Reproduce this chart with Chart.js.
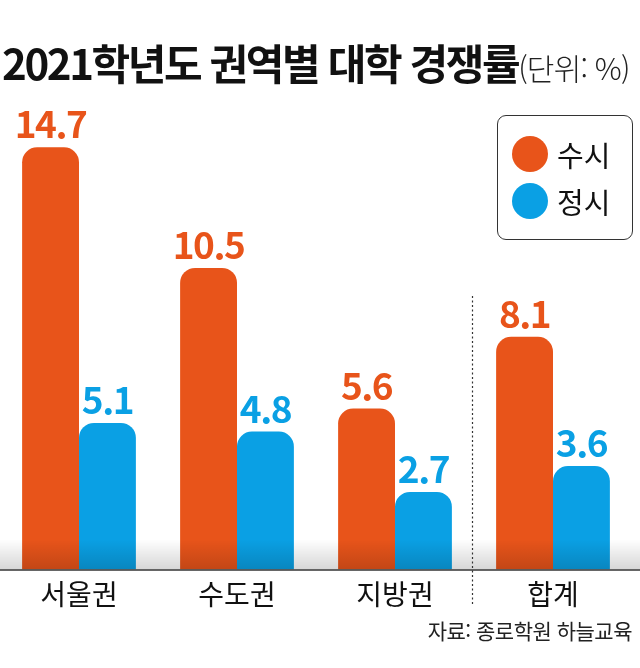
<!DOCTYPE html>
<html lang="ko">
<head>
<meta charset="utf-8">
<script src="https://cdn.jsdelivr.net/npm/chart.js@4"></script>
<style>
  html, body { margin: 0; padding: 0; background: #fff; }
  #wrap { position: relative; width: 640px; height: 668px; overflow: hidden; font-family: "Noto Sans CJK KR", "Noto Sans", sans-serif; }
  #myChart { position: absolute; left: 0; top: 0; }
  #title { position: absolute; left: 2px; top: 31px; white-space: nowrap; color: #111; }
  #title .main { font-size: 42px; font-weight: 700; letter-spacing: -2.4px; }
  #title .unit { font-size: 30px; font-weight: 300; letter-spacing: -0.8px; color: #222; }
  #legend { position: absolute; left: 497px; top: 115px; width: 136px; height: 125px; border: 1.5px solid #333; border-radius: 9px; box-sizing: border-box; }
  #legend .item { position: absolute; left: 14px; height: 36px; display: flex; align-items: center; font-size: 29px; color: #111; }
  #legend .dot { width: 36px; height: 36px; border-radius: 50%; margin-right: 9px; }
  #source { position: absolute; right: 8px; top: 615px; font-size: 21px; color: #222; letter-spacing: -0.5px; }
</style>
</head>
<body>
<div id="wrap">
  <canvas id="myChart" width="640" height="668"></canvas>
  <div id="title"><span class="main">2021학년도 권역별 대학 경쟁률</span><span class="unit">(단위: %)</span></div>
  <div id="legend"></div>
  <div id="source">자료: 종로학원 하늘교육</div>
</div>
<script>
var regions = ["서울권", "수도권", "지방권", "합계"];
var susi = [14.7, 10.5, 5.6, 8.1];
var jeongsi = [5.1, 4.8, 2.7, 3.6];
var seriesNames = ["수시", "정시"];
var seriesColors = ["#e8541a", "#0aa0e4"];

// legend box (html)
var legend = document.getElementById("legend");
seriesNames.forEach(function (name, i) {
	var item = document.createElement("div");
	item.className = "item";
	item.style.top = (20 + i * 47) + "px";
	item.innerHTML = '<span class="dot" style="background:' + seriesColors[i] + '"></span>' + name;
	legend.appendChild(item);
});

// value labels, bottom shade, axis line, dotted divider
var decorPlugin = {
	id: "decor",
	afterDatasetsDraw: function (chart) {
		var ctx = chart.ctx;
		var area = chart.chartArea;
		var xs = chart.scales.x;

		// grey shade near baseline
		var g = ctx.createLinearGradient(0, area.bottom - 30, 0, area.bottom);
		g.addColorStop(0, "rgba(0,0,0,0)");
		g.addColorStop(1, "rgba(0,0,0,0.16)");
		ctx.save();
		ctx.fillStyle = g;
		ctx.fillRect(0, area.bottom - 30, chart.width, 30);

		// axis line
		ctx.strokeStyle = "#333";
		ctx.lineWidth = 1.5;
		ctx.beginPath();
		ctx.moveTo(0, area.bottom + 0.5);
		ctx.lineTo(chart.width, area.bottom + 0.5);
		ctx.stroke();

		// dotted divider before 합계
		var dx = Math.round((xs.getPixelForValue(2) + xs.getPixelForValue(3)) / 2) - 1.5;
		ctx.setLineDash([2, 2.5]);
		ctx.lineWidth = 1.2;
		ctx.beginPath();
		ctx.moveTo(dx, 296);
		ctx.lineTo(dx, 604);
		ctx.stroke();
		ctx.setLineDash([]);

		// values
		ctx.font = "bold 37px 'Noto Sans CJK KR', 'Noto Sans', sans-serif";
		ctx.letterSpacing = "-1.5px";
		ctx.textAlign = "center";
		ctx.textBaseline = "alphabetic";
		chart.data.datasets.forEach(function (ds, i) {
			chart.getDatasetMeta(i).data.forEach(function (bar, j) {
				ctx.fillStyle = seriesColors[i];
				ctx.fillText(ds.data[j].toFixed(1), bar.x, bar.y - 9);
			});
		});
		ctx.restore();
	}
};

var ctx = document.getElementById("myChart").getContext("2d");

var myChart = new Chart(ctx, {
	type: "bar",
	data: {
		labels: regions,
		datasets: [
			{
				label: seriesNames[0],
				data: susi,
				backgroundColor: seriesColors[0],
				borderRadius: { topLeft: 15, topRight: 15, bottomLeft: 0, bottomRight: 0 },
				borderSkipped: false,
			},
			{
				label: seriesNames[1],
				data: jeongsi,
				backgroundColor: seriesColors[1],
				borderRadius: { topLeft: 15, topRight: 15, bottomLeft: 0, bottomRight: 0 },
				borderSkipped: false,
			},
		],
	},
	options: {
		responsive: false,
		animation: false,
		layout: { padding: { left: 0, right: 8, top: 110, bottom: 49 } },
		categoryPercentage: 0.72,
		barPercentage: 1.0,
		plugins: {
			legend: { display: false },
			tooltip: { enabled: false },
		},
		scales: {
			x: {
				grid: { display: false, drawTicks: false },
				border: { display: false },
				ticks: {
					color: "#111",
					padding: 8,
					font: { family: "'Noto Sans CJK KR', sans-serif", size: 28 },
				},
			},
			y: {
				display: false,
				min: 0,
				max: 16,
			},
		},
	},
	plugins: [decorPlugin],
});
</script>
</body>
</html>
